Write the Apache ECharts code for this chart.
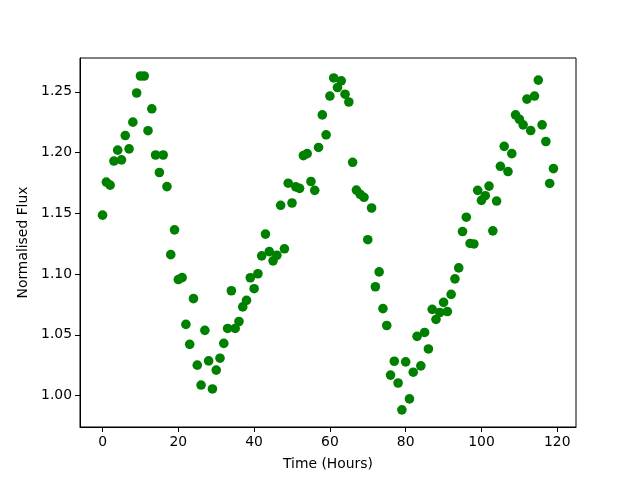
<!DOCTYPE html>
<html>
<head>
<meta charset="utf-8">
<script src="https://cdn.jsdelivr.net/npm/echarts@6/dist/echarts.min.js"></script>
<style>
  html, body { margin: 0; padding: 0; background: #fff; }
  #chart { width: 640px; height: 480px; }
</style>
</head>
<body>
<div id="chart"></div>
<script>
// hours since start of observation
var hours = [];
for (var h = 0; h < 120; h++) hours.push(h);

// normalised flux
var flux = [
  1.1485, 1.1757, 1.1732, 1.193, 1.202, 1.194, 1.214, 1.203, 1.225, 1.249,
  1.263, 1.263, 1.218, 1.236, 1.198, 1.1836, 1.198, 1.172, 1.116, 1.1364,
  1.0955, 1.0971, 1.0586, 1.0422, 1.0798, 1.0251, 1.0087, 1.0537, 1.0286, 1.0055,
  1.021, 1.0308, 1.043, 1.0553, 1.0863, 1.0553, 1.061, 1.073, 1.0784, 1.097,
  1.088, 1.1003, 1.115, 1.1329, 1.1185, 1.1109, 1.1155, 1.1566, 1.1208, 1.1748,
  1.1585, 1.1718, 1.1705, 1.1975, 1.1991, 1.1762, 1.1689, 1.2042, 1.231, 1.2146,
  1.2465, 1.2614, 1.2535, 1.259, 1.248, 1.2416, 1.192, 1.1691, 1.1656, 1.1632,
  1.1283, 1.1544, 1.0896, 1.1018, 1.0716, 1.0577, 1.0169, 1.0283, 1.0104, 0.9883,
  1.0278, 0.9973, 1.0193, 1.0488, 1.0245, 1.052, 1.0384, 1.071, 1.0627, 1.0684,
  1.0767, 1.0692, 1.0833, 1.0961, 1.1051, 1.135, 1.1468, 1.1252, 1.1248, 1.1689,
  1.1607, 1.1645, 1.1724, 1.1356, 1.1601, 1.1887, 1.2051, 1.1844, 1.1991, 1.231,
  1.2274, 1.2228, 1.244, 1.2181, 1.2465, 1.2596, 1.2228, 1.2091, 1.1746, 1.1868
];

var xTicks = [0, 20, 40, 60, 80, 100, 120];
var yTicks = [1.00, 1.05, 1.10, 1.15, 1.20, 1.25];

var points = hours.map(function (t, i) { return [t, flux[i]]; });

var font = 'DejaVu Sans';
var chart = echarts.init(document.getElementById('chart'));
chart.setOption({
  animation: false,
  backgroundColor: '#fff',
  grid: {
    left: 80, right: 64, top: 58, bottom: 53,
    show: true, borderColor: '#000', borderWidth: 1
  },
  xAxis: {
    type: 'value',
    min: -5.95, max: 124.95,
    name: 'Time (Hours)',
    nameLocation: 'middle',
    nameGap: 30,
    nameTextStyle: { fontFamily: font, fontSize: 13.9, color: '#000' },
    axisLine: { show: true, onZero: false, lineStyle: { color: '#000', width: 1 } },
    axisTick: { show: true, length: 5, customValues: xTicks, lineStyle: { color: '#000' } },
    axisLabel: {
      customValues: xTicks, margin: 8,
      fontFamily: font, fontSize: 13.9, color: '#000'
    },
    splitLine: { show: false }
  },
  yAxis: {
    type: 'value',
    min: 0.9742, max: 1.2778,
    name: 'Normalised Flux',
    nameLocation: 'middle',
    nameGap: 44,
    nameTextStyle: { fontFamily: font, fontSize: 13.9, color: '#000' },
    axisLine: { show: true, onZero: false, lineStyle: { color: '#000', width: 1 } },
    axisTick: { show: true, length: 5, customValues: yTicks, lineStyle: { color: '#000' } },
    axisLabel: {
      customValues: yTicks, margin: 8,
      fontFamily: font, fontSize: 13.9, color: '#000',
      formatter: function (v) { return v.toFixed(2); }
    },
    splitLine: { show: false }
  },
  series: [{
    type: 'scatter',
    data: points,
    symbol: 'circle',
    symbolSize: 9.6,
    itemStyle: { color: '#008000', opacity: 1 }
  }]
});
</script>
</body>
</html>
